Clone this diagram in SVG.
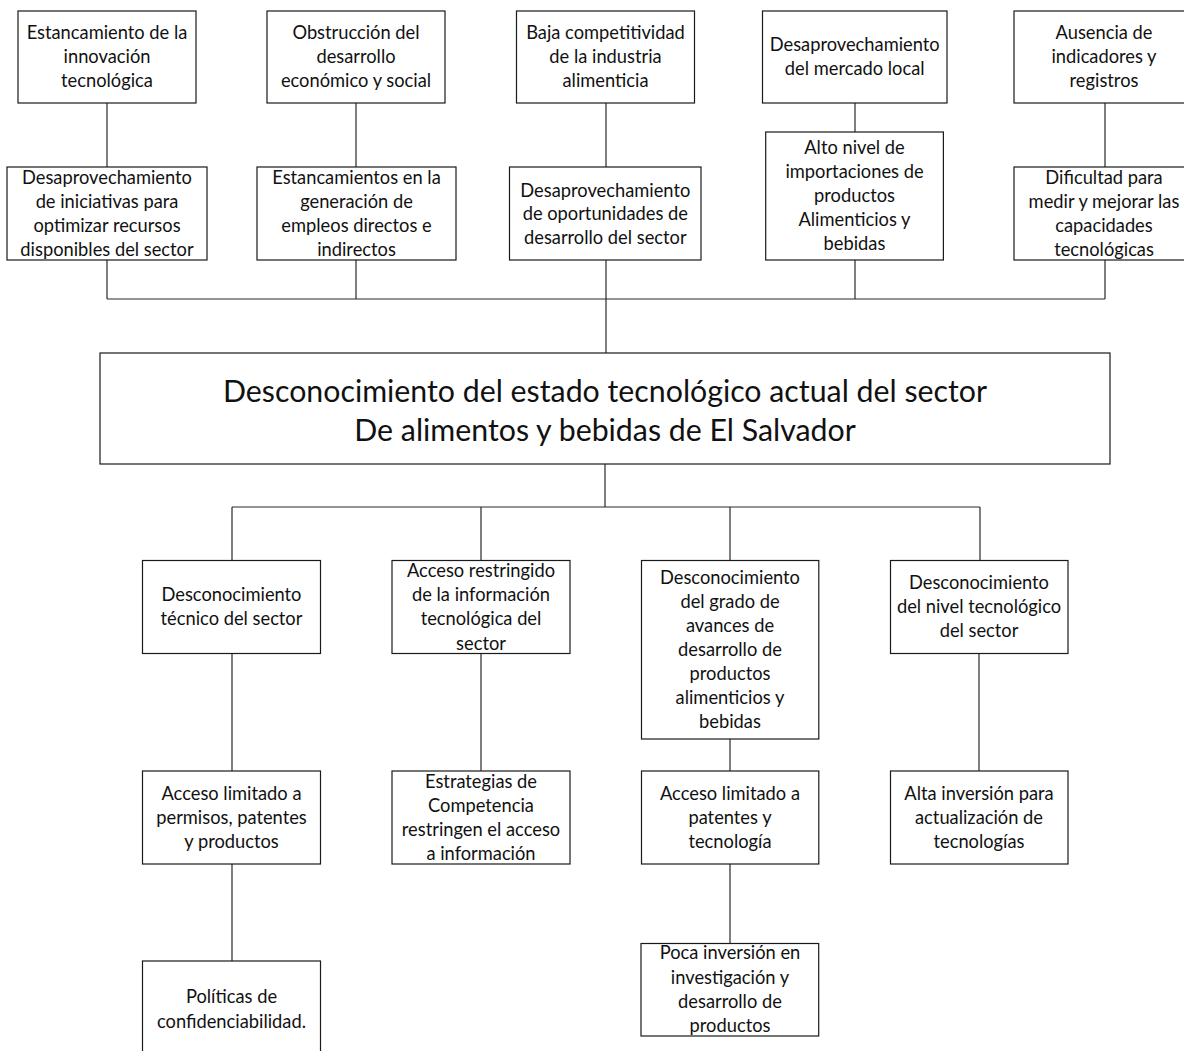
<svg xmlns="http://www.w3.org/2000/svg" width="1184" height="1051" viewBox="0 0 1184 1051">
  <style>
    .box { fill: #ffffff; stroke: #1a1a1a; stroke-width: 1.2; }
    .lbl { font-family: Lato, "Liberation Sans", sans-serif; font-size: 18.3px; fill: #111; text-anchor: middle; }
    .title { font-family: Lato, "Liberation Sans", sans-serif; font-size: 30.3px; fill: #111; text-anchor: middle; }
    .conn { stroke: #2a2a2a; stroke-width: 1.2; fill: none; }
  </style>
  <rect width="1184" height="1051" fill="#ffffff"/>

  <!-- connectors -->
  <g id="connectors" class="conn">
    <path d="M107,103 V167 M356,103 V167 M606,103 V167 M855,103 V132 M1105,103 V167"/>
    <path d="M107,260 V299 M356,260 V299 M606,260 V353 M855,260 V299 M1105,260 V299"/>
    <path d="M107,299 H1105"/>
    <path d="M605,464 V507 M232,507 H980 M232,507 V560 M481,507 V560 M730,507 V560 M980,507 V560"/>
    <path d="M232,653 V771 M481,653 V771 M730,739 V771 M979,653 V771"/>
    <path d="M232,864 V961 M730,864 V943"/>
  </g>

  <!-- effects, top row -->
  <g id="n-innovacion">
    <rect class="box" x="18" y="11" width="178" height="92"/>
    <text class="lbl" x="107" y="39">Estancamiento de la</text>
    <text class="lbl" x="107" y="63">innovación</text>
    <text class="lbl" x="107" y="87">tecnológica</text>
  </g>
  <g id="n-obstruccion">
    <rect class="box" x="267" y="11" width="178" height="92"/>
    <text class="lbl" x="356" y="39">Obstrucción del</text>
    <text class="lbl" x="356" y="63">desarrollo</text>
    <text class="lbl" x="356" y="87">económico y social</text>
  </g>
  <g id="n-competitividad">
    <rect class="box" x="516.5" y="11" width="178" height="92"/>
    <text class="lbl" x="605.5" y="39">Baja competitividad</text>
    <text class="lbl" x="605.5" y="63">de la industria</text>
    <text class="lbl" x="605.5" y="87">alimenticia</text>
  </g>
  <g id="n-mercado">
    <rect class="box" x="762.5" y="11" width="184.5" height="92"/>
    <text class="lbl" x="854.7" y="51">Desaprovechamiento</text>
    <text class="lbl" x="854.7" y="75">del mercado local</text>
  </g>
  <g id="n-indicadores">
    <rect class="box" x="1014" y="11" width="180" height="92"/>
    <text class="lbl" x="1104" y="39">Ausencia de</text>
    <text class="lbl" x="1104" y="63">indicadores y</text>
    <text class="lbl" x="1104" y="87">registros</text>
  </g>

  <!-- effects, second row -->
  <g id="n-iniciativas">
    <rect class="box" x="7" y="167" width="200" height="93"/>
    <text class="lbl" x="107" y="184">Desaprovechamiento</text>
    <text class="lbl" x="107" y="208">de iniciativas para</text>
    <text class="lbl" x="107" y="232">optimizar recursos</text>
    <text class="lbl" x="107" y="256">disponibles del sector</text>
  </g>
  <g id="n-empleos">
    <rect class="box" x="257" y="167" width="199" height="93"/>
    <text class="lbl" x="356.5" y="184">Estancamientos en la</text>
    <text class="lbl" x="356.5" y="208">generación de</text>
    <text class="lbl" x="356.5" y="232">empleos directos e</text>
    <text class="lbl" x="356.5" y="256">indirectos</text>
  </g>
  <g id="n-oportunidades">
    <rect class="box" x="509.5" y="167" width="191.5" height="93"/>
    <text class="lbl" x="605.3" y="197">Desaprovechamiento</text>
    <text class="lbl" x="605.3" y="220">de oportunidades de</text>
    <text class="lbl" x="605.3" y="244">desarrollo del sector</text>
  </g>
  <g id="n-importaciones">
    <rect class="box" x="765.7" y="132" width="177.7" height="128"/>
    <text class="lbl" x="854.5" y="154">Alto nivel de</text>
    <text class="lbl" x="854.5" y="178">importaciones de</text>
    <text class="lbl" x="854.5" y="202">productos</text>
    <text class="lbl" x="854.5" y="226">Alimenticios y</text>
    <text class="lbl" x="854.5" y="250">bebidas</text>
  </g>
  <g id="n-dificultad">
    <rect class="box" x="1014" y="167" width="182" height="93"/>
    <text class="lbl" x="1104" y="184">Dificultad para</text>
    <text class="lbl" x="1104" y="208">medir y mejorar las</text>
    <text class="lbl" x="1104" y="232">capacidades</text>
    <text class="lbl" x="1104" y="256">tecnológicas</text>
  </g>

  <!-- central problem -->
  <g id="n-problema">
    <rect class="box" x="100" y="353" width="1010" height="111"/>
    <text class="title" x="605" y="402">Desconocimiento del estado tecnológico actual del sector</text>
    <text class="title" x="605" y="441">De alimentos y bebidas de El Salvador</text>
  </g>

  <!-- causes -->
  <g id="n-tecnico">
    <rect class="box" x="142.5" y="560.5" width="178" height="93"/>
    <text class="lbl" x="231.5" y="601">Desconocimiento</text>
    <text class="lbl" x="231.5" y="625">técnico del sector</text>
  </g>
  <g id="n-acceso-info">
    <rect class="box" x="392" y="560.5" width="178" height="93"/>
    <text class="lbl" x="481" y="577">Acceso restringido</text>
    <text class="lbl" x="481" y="601">de la información</text>
    <text class="lbl" x="481" y="625">tecnológica del</text>
    <text class="lbl" x="481" y="650">sector</text>
  </g>
  <g id="n-avances">
    <rect class="box" x="641.5" y="560.5" width="177.3" height="178.5"/>
    <text class="lbl" x="730" y="584">Desconocimiento</text>
    <text class="lbl" x="730" y="608">del grado de</text>
    <text class="lbl" x="730" y="632">avances de</text>
    <text class="lbl" x="730" y="656">desarrollo de</text>
    <text class="lbl" x="730" y="680">productos</text>
    <text class="lbl" x="730" y="704">alimenticios y</text>
    <text class="lbl" x="730" y="728">bebidas</text>
  </g>
  <g id="n-nivel">
    <rect class="box" x="890.5" y="560.5" width="177.5" height="93"/>
    <text class="lbl" x="979" y="589">Desconocimiento</text>
    <text class="lbl" x="979" y="613">del nivel tecnológico</text>
    <text class="lbl" x="979" y="637">del sector</text>
  </g>

  <g id="n-permisos">
    <rect class="box" x="142.5" y="771" width="178" height="93"/>
    <text class="lbl" x="231.5" y="800">Acceso limitado a</text>
    <text class="lbl" x="231.5" y="824">permisos, patentes</text>
    <text class="lbl" x="231.5" y="848">y productos</text>
  </g>
  <g id="n-estrategias">
    <rect class="box" x="392" y="771" width="178" height="93"/>
    <text class="lbl" x="481" y="788">Estrategias de</text>
    <text class="lbl" x="481" y="812">Competencia</text>
    <text class="lbl" x="481" y="836">restringen el acceso</text>
    <text class="lbl" x="481" y="860">a información</text>
  </g>
  <g id="n-patentes">
    <rect class="box" x="641.5" y="771" width="177.3" height="93"/>
    <text class="lbl" x="730" y="800">Acceso limitado a</text>
    <text class="lbl" x="730" y="824">patentes y</text>
    <text class="lbl" x="730" y="848">tecnología</text>
  </g>
  <g id="n-inversion">
    <rect class="box" x="890.5" y="771" width="177.5" height="93"/>
    <text class="lbl" x="979" y="800">Alta inversión para</text>
    <text class="lbl" x="979" y="824">actualización de</text>
    <text class="lbl" x="979" y="848">tecnologías</text>
  </g>

  <g id="n-politicas">
    <rect class="box" x="142.5" y="961" width="178" height="100"/>
    <text class="lbl" x="231.5" y="1003">Políticas de</text>
    <text class="lbl" x="231.5" y="1028">confidenciabilidad.</text>
  </g>
  <g id="n-investigacion">
    <rect class="box" x="641" y="943.5" width="177.7" height="92.5"/>
    <text class="lbl" x="730" y="959">Poca inversión en</text>
    <text class="lbl" x="730" y="984">investigación y</text>
    <text class="lbl" x="730" y="1008">desarrollo de</text>
    <text class="lbl" x="730" y="1032">productos</text>
  </g>
</svg>
